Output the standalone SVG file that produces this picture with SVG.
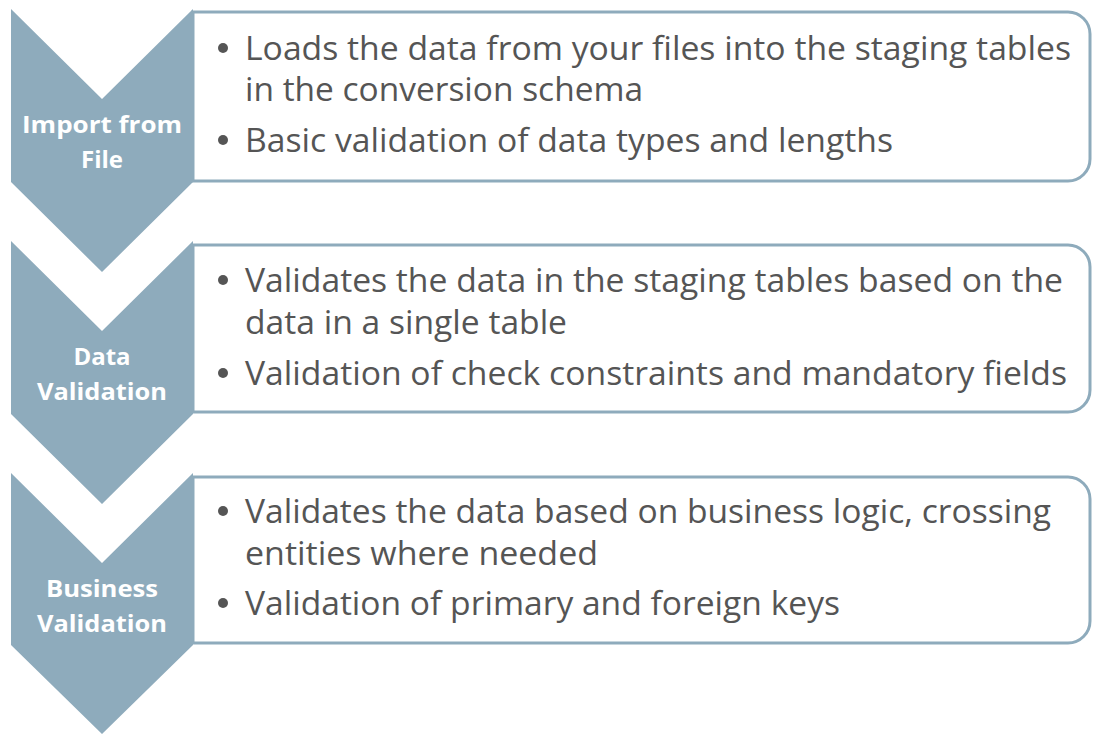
<svg xmlns="http://www.w3.org/2000/svg" width="1093" height="734" viewBox="0 0 1093 734">
<style>
.chev{fill:#8eabbc}
.box{fill:#ffffff;stroke:#8eabbc;stroke-width:3}
.lbl{font-family:"Open Sans","Liberation Sans",sans-serif;font-weight:bold;font-size:24px;fill:#ffffff;text-anchor:middle}
.txt{font-family:"Open Sans","Liberation Sans",sans-serif;font-size:32px;fill:#555555}
.dot{fill:#555555}
</style>
<rect width="1093" height="734" fill="#ffffff"/>
<g id="connectors"></g>
<g id="step1">
<path class="chev" d="M11,9 L102,99 L193,9 L193,182 L102,272 L11,182 Z"/>
<path class="box" d="M193,12 H1068 A22,22 0 0 1 1090,34 V159 A22,22 0 0 1 1068,181 H193 Z"/>
<text class="lbl" x="102" y="133" textLength="160" lengthAdjust="spacingAndGlyphs">Import from</text>
<text class="lbl" x="102" y="168">File</text>
<circle class="dot" cx="223" cy="48" r="5"/>
<text class="txt" x="245" y="60" textLength="826" lengthAdjust="spacingAndGlyphs">Loads the data from your files into the staging tables</text>
<text class="txt" x="245" y="101" textLength="398" lengthAdjust="spacingAndGlyphs">in the conversion schema</text>
<circle class="dot" cx="223" cy="140" r="5"/>
<text class="txt" x="245" y="152" textLength="648" lengthAdjust="spacingAndGlyphs">Basic validation of data types and lengths</text>
</g>
<g id="step2">
<path class="chev" d="M11,241 L102,331 L193,241 L193,414 L102,504 L11,414 Z"/>
<path class="box" d="M193,245 H1068 A22,22 0 0 1 1090,267 V390 A22,22 0 0 1 1068,412 H193 Z"/>
<text class="lbl" x="102" y="365">Data</text>
<text class="lbl" x="102" y="400" textLength="130" lengthAdjust="spacingAndGlyphs">Validation</text>
<circle class="dot" cx="223" cy="280" r="5"/>
<text class="txt" x="245" y="292" textLength="818" lengthAdjust="spacingAndGlyphs">Validates the data in the staging tables based on the</text>
<text class="txt" x="245" y="334" textLength="322" lengthAdjust="spacingAndGlyphs">data in a single table</text>
<circle class="dot" cx="223" cy="373" r="5"/>
<text class="txt" x="245" y="385" textLength="822" lengthAdjust="spacingAndGlyphs">Validation of check constraints and mandatory fields</text>
</g>
<g id="step3">
<path class="chev" d="M11,473 L102,563 L193,473 L193,645 L102,734 L11,645 Z"/>
<path class="box" d="M193,477 H1068 A22,22 0 0 1 1090,499 V621 A22,22 0 0 1 1068,643 H193 Z"/>
<text class="lbl" x="102" y="597" textLength="112" lengthAdjust="spacingAndGlyphs">Business</text>
<text class="lbl" x="102" y="632" textLength="130" lengthAdjust="spacingAndGlyphs">Validation</text>
<circle class="dot" cx="223" cy="511" r="5"/>
<text class="txt" x="245" y="523" textLength="806" lengthAdjust="spacingAndGlyphs">Validates the data based on business logic, crossing</text>
<text class="txt" x="245" y="565" textLength="353" lengthAdjust="spacingAndGlyphs">entities where needed</text>
<circle class="dot" cx="223" cy="603" r="5"/>
<text class="txt" x="245" y="615" textLength="595" lengthAdjust="spacingAndGlyphs">Validation of primary and foreign keys</text>
</g>
</svg>
